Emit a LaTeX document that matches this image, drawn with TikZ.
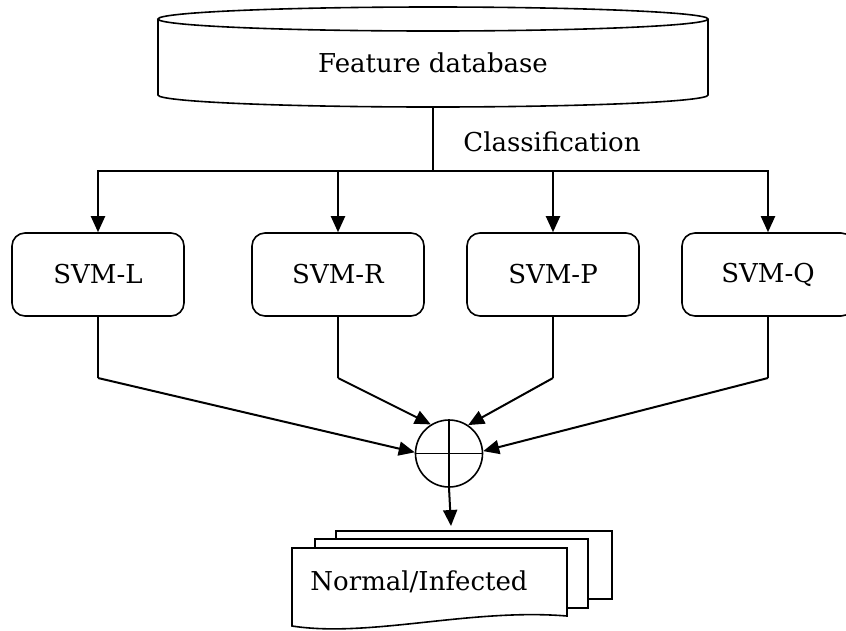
\documentclass[tikz,border=0pt]{standalone}
\usepackage{fontspec}
\setmainfont{DejaVu Serif}
\usetikzlibrary{arrows.meta}

\tikzset{
	svmbox/.style={draw,line width=1.6pt,rounded corners=13pt,
		minimum width=172pt,minimum height=83pt},
	flow/.style={-{Triangle[length=16pt,width=14pt]},line width=2pt},
	wire/.style={line width=1.4pt},
	sheet/.style={draw,line width=1.6pt,fill=white},
}

\begin{document}
\begin{tikzpicture}[x=1pt,y=-1pt,font=\fontsize{26}{31}\selectfont]
	\useasboundingbox (0,0) rectangle (846,630);
	% feature database
	\draw[line width=1.6pt] (158,19) -- (158,95)
		arc[start angle=180,end angle=0,x radius=275,y radius=12] -- (708,19);
	\draw[line width=1.6pt] (433,19) ellipse [x radius=275,y radius=12];
	\node (db) at (433,63) {Feature database};
	\coordinate (dbout) at (433,107);
	\coordinate (split) at (433,171);
	\node (cls) at (552,142) {Classification};
	% classifiers
	\node[svmbox] (svml) at (98,274.5) {SVM-L};
	\node[svmbox] (svmr) at (338,274.5) {SVM-R};
	\node[svmbox] (svmp) at (553,274.5) {SVM-P};
	\node[svmbox] (svmq) at (768,274.5) {SVM-Q};
	\draw[wire] (dbout) -- (split);
	\foreach \b in {svml,svmr,svmp,svmq}
		\draw[flow] (split) -| (\b.north);
	% fusion
	\node[draw,circle,line width=1.6pt,minimum size=67pt,inner sep=0pt] (sum) at (449,453.5) {};
	\draw[line width=1.6pt] (sum.north) -- (sum.south) (sum.west) -- (sum.east);
	\coordinate (kl) at (98,378);
	\coordinate (kr) at (338,378);
	\coordinate (kp) at (553,378);
	\coordinate (kq) at (768,378);
	\draw[wire] (svml.south) -- (kl);
	\draw[wire] (svmr.south) -- (kr);
	\draw[wire] (svmp.south) -- (kp);
	\draw[wire] (svmq.south) -- (kq);
	\draw[flow] (kl) -- (sum.178);
	\draw[flow] (kr) -- (sum.122);
	\draw[flow] (kp) -- (sum.56);
	\draw[flow] (kq) -- (sum.4);
	% result documents
	\draw[sheet] (336,531) rectangle (612,599);
	\draw[sheet] (315,539) rectangle (588,608);
	\draw[sheet] (292,548) -- (567,548) -- (567,616)
		.. controls (470,608) and (370,638) .. (292,626) -- cycle;
	\node (res) at (419,582) {Normal/Infected};
	\coordinate (resin) at (451,526);
	\draw[flow] (sum.south) -- (resin);
\end{tikzpicture}
\end{document}
